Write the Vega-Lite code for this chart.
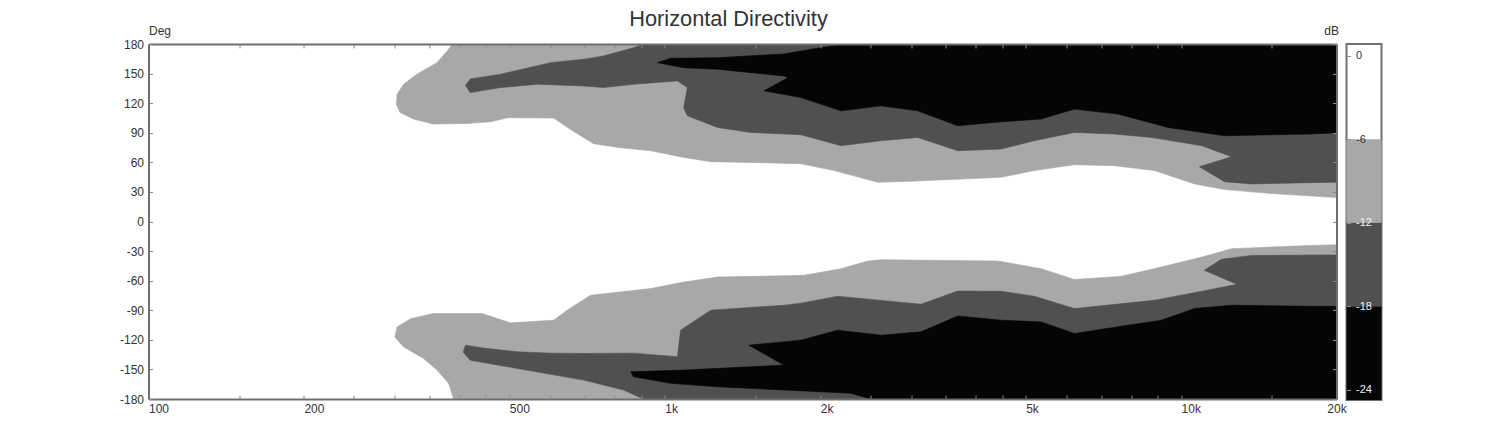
{
  "$schema": "https://vega.github.io/schema/vega-lite/v6.json",
  "padding": {"left": 118.5, "top": 8, "right": 0, "bottom": 0},
  "title": {"text": "Horizontal Directivity", "fontSize": 21.8, "font": "Liberation Sans", "fontWeight": "normal", "color": "#333333", "anchor": "middle", "dx": -22.5, "offset": -6},
  "bounds": "flush",
  "spacing": 10,
  "datasets": {
    "polys": [
      {"lvl":"-6","part":"u","i":1,"f":388,"a":180},
      {"lvl":"-6","part":"u","i":2,"f":379,"a":172.9},
      {"lvl":"-6","part":"u","i":3,"f":362,"a":161.1},
      {"lvl":"-6","part":"u","i":4,"f":331,"a":149.4},
      {"lvl":"-6","part":"u","i":5,"f":312,"a":139.2},
      {"lvl":"-6","part":"u","i":6,"f":303,"a":129.1},
      {"lvl":"-6","part":"u","i":7,"f":302,"a":119.0},
      {"lvl":"-6","part":"u","i":8,"f":307,"a":110.5},
      {"lvl":"-6","part":"u","i":9,"f":326,"a":103.9},
      {"lvl":"-6","part":"u","i":10,"f":356,"a":98.8},
      {"lvl":"-6","part":"u","i":11,"f":414,"a":99.4},
      {"lvl":"-6","part":"u","i":12,"f":460,"a":101.1},
      {"lvl":"-6","part":"u","i":13,"f":496,"a":105.2},
      {"lvl":"-6","part":"u","i":14,"f":609,"a":104.9},
      {"lvl":"-6","part":"u","i":15,"f":648,"a":95.4},
      {"lvl":"-6","part":"u","i":16,"f":687,"a":87.0},
      {"lvl":"-6","part":"u","i":17,"f":728,"a":78.9},
      {"lvl":"-6","part":"u","i":18,"f":821,"a":74.8},
      {"lvl":"-6","part":"u","i":19,"f":939,"a":71.8},
      {"lvl":"-6","part":"u","i":20,"f":1088,"a":65.0},
      {"lvl":"-6","part":"u","i":21,"f":1228,"a":60.7},
      {"lvl":"-6","part":"u","i":22,"f":1535,"a":59.7},
      {"lvl":"-6","part":"u","i":23,"f":1835,"a":58.6},
      {"lvl":"-6","part":"u","i":24,"f":2127,"a":51.6},
      {"lvl":"-6","part":"u","i":25,"f":2588,"a":39.7},
      {"lvl":"-6","part":"u","i":26,"f":2999,"a":40.8},
      {"lvl":"-6","part":"u","i":27,"f":4483,"a":44.8},
      {"lvl":"-6","part":"u","i":28,"f":5195,"a":51.6},
      {"lvl":"-6","part":"u","i":29,"f":6213,"a":57.6},
      {"lvl":"-6","part":"u","i":30,"f":7428,"a":56.6},
      {"lvl":"-6","part":"u","i":31,"f":8880,"a":51.6},
      {"lvl":"-6","part":"u","i":32,"f":10620,"a":38.1},
      {"lvl":"-6","part":"u","i":33,"f":12140,"a":32.4},
      {"lvl":"-6","part":"u","i":34,"f":14970,"a":28.3},
      {"lvl":"-6","part":"u","i":35,"f":20000,"a":24.3},
      {"lvl":"-6","part":"u","i":36,"f":20000,"a":180},

      {"lvl":"-12","part":"u","i":1,"f":910,"a":180},
      {"lvl":"-12","part":"u","i":2,"f":870,"a":176.3},
      {"lvl":"-12","part":"u","i":3,"f":761,"a":167.9},
      {"lvl":"-12","part":"u","i":4,"f":696,"a":164.5},
      {"lvl":"-12","part":"u","i":5,"f":601,"a":161.1},
      {"lvl":"-12","part":"u","i":6,"f":481,"a":149.4},
      {"lvl":"-12","part":"u","i":7,"f":420,"a":144.6},
      {"lvl":"-12","part":"u","i":8,"f":411,"a":138.0},
      {"lvl":"-12","part":"u","i":9,"f":420,"a":130.7},
      {"lvl":"-12","part":"u","i":10,"f":481,"a":135.8},
      {"lvl":"-12","part":"u","i":11,"f":566,"a":139.2},
      {"lvl":"-12","part":"u","i":12,"f":696,"a":137.5},
      {"lvl":"-12","part":"u","i":13,"f":761,"a":135.8},
      {"lvl":"-12","part":"u","i":14,"f":870,"a":139.2},
      {"lvl":"-12","part":"u","i":15,"f":1058,"a":142.6},
      {"lvl":"-12","part":"u","i":16,"f":1106,"a":135.8},
      {"lvl":"-12","part":"u","i":17,"f":1088,"a":115.6},
      {"lvl":"-12","part":"u","i":18,"f":1106,"a":107.2},
      {"lvl":"-12","part":"u","i":19,"f":1265,"a":95.4},
      {"lvl":"-12","part":"u","i":20,"f":1468,"a":90.3},
      {"lvl":"-12","part":"u","i":21,"f":1835,"a":88.0},
      {"lvl":"-12","part":"u","i":22,"f":2194,"a":76.9},
      {"lvl":"-12","part":"u","i":23,"f":2623,"a":81.9},
      {"lvl":"-12","part":"u","i":24,"f":3090,"a":85.2},
      {"lvl":"-12","part":"u","i":25,"f":3694,"a":71.8},
      {"lvl":"-12","part":"u","i":26,"f":4483,"a":73.5},
      {"lvl":"-12","part":"u","i":27,"f":5195,"a":81.9},
      {"lvl":"-12","part":"u","i":28,"f":6213,"a":90.3},
      {"lvl":"-12","part":"u","i":29,"f":7428,"a":88.7},
      {"lvl":"-12","part":"u","i":30,"f":8775,"a":85.2},
      {"lvl":"-12","part":"u","i":31,"f":10970,"a":76.9},
      {"lvl":"-12","part":"u","i":32,"f":12530,"a":65.7},
      {"lvl":"-12","part":"u","i":33,"f":10850,"a":55.6},
      {"lvl":"-12","part":"u","i":34,"f":12140,"a":40.4},
      {"lvl":"-12","part":"u","i":35,"f":13690,"a":38.1},
      {"lvl":"-12","part":"u","i":36,"f":17740,"a":39.4},
      {"lvl":"-12","part":"u","i":37,"f":20000,"a":39.9},
      {"lvl":"-12","part":"u","i":38,"f":20000,"a":180},

      {"lvl":"-18","part":"u","i":1,"f":968,"a":161.1},
      {"lvl":"-18","part":"u","i":2,"f":1027,"a":165.5},
      {"lvl":"-18","part":"u","i":3,"f":1265,"a":166.1},
      {"lvl":"-18","part":"u","i":4,"f":1701,"a":169.9},
      {"lvl":"-18","part":"u","i":5,"f":1835,"a":172.9},
      {"lvl":"-18","part":"u","i":6,"f":2223,"a":180},
      {"lvl":"-18","part":"u","i":7,"f":20000,"a":180},
      {"lvl":"-18","part":"u","i":8,"f":20000,"a":90.0},
      {"lvl":"-18","part":"u","i":9,"f":17740,"a":88.7},
      {"lvl":"-18","part":"u","i":10,"f":12140,"a":87.0},
      {"lvl":"-18","part":"u","i":11,"f":9436,"a":95.4},
      {"lvl":"-18","part":"u","i":12,"f":7548,"a":108.9},
      {"lvl":"-18","part":"u","i":13,"f":6213,"a":114.0},
      {"lvl":"-18","part":"u","i":14,"f":5360,"a":103.9},
      {"lvl":"-18","part":"u","i":15,"f":4483,"a":101.1},
      {"lvl":"-18","part":"u","i":16,"f":3694,"a":97.1},
      {"lvl":"-18","part":"u","i":17,"f":3090,"a":112.2},
      {"lvl":"-18","part":"u","i":18,"f":2623,"a":117.3},
      {"lvl":"-18","part":"u","i":19,"f":2194,"a":112.2},
      {"lvl":"-18","part":"u","i":20,"f":1835,"a":125.7},
      {"lvl":"-18","part":"u","i":21,"f":1557,"a":132.5},
      {"lvl":"-18","part":"u","i":22,"f":1732,"a":145.9},
      {"lvl":"-18","part":"u","i":23,"f":1701,"a":147.6},
      {"lvl":"-18","part":"u","i":24,"f":1265,"a":154.4},
      {"lvl":"-18","part":"u","i":25,"f":1088,"a":156.0},

      {"lvl":"-6","part":"l","i":1,"f":390,"a":-180},
      {"lvl":"-6","part":"l","i":2,"f":381,"a":-163.8},
      {"lvl":"-6","part":"l","i":3,"f":362,"a":-150.7},
      {"lvl":"-6","part":"l","i":4,"f":341,"a":-138.9},
      {"lvl":"-6","part":"l","i":5,"f":312,"a":-127.2},
      {"lvl":"-6","part":"l","i":6,"f":300,"a":-117.1},
      {"lvl":"-6","part":"l","i":7,"f":303,"a":-107.0},
      {"lvl":"-6","part":"l","i":8,"f":322,"a":-98.5},
      {"lvl":"-6","part":"l","i":9,"f":356,"a":-93.4},
      {"lvl":"-6","part":"l","i":10,"f":443,"a":-93.4},
      {"lvl":"-6","part":"l","i":11,"f":503,"a":-102.8},
      {"lvl":"-6","part":"l","i":12,"f":609,"a":-100.1},
      {"lvl":"-6","part":"l","i":13,"f":647,"a":-89.9},
      {"lvl":"-6","part":"l","i":14,"f":718,"a":-74.8},
      {"lvl":"-6","part":"l","i":15,"f":939,"a":-68.0},
      {"lvl":"-6","part":"l","i":16,"f":1088,"a":-61.4},
      {"lvl":"-6","part":"l","i":17,"f":1265,"a":-56.3},
      {"lvl":"-6","part":"l","i":18,"f":1860,"a":-54.6},
      {"lvl":"-6","part":"l","i":19,"f":2194,"a":-47.8},
      {"lvl":"-6","part":"l","i":20,"f":2471,"a":-40.1},
      {"lvl":"-6","part":"l","i":21,"f":2623,"a":-38.7},
      {"lvl":"-6","part":"l","i":22,"f":4417,"a":-40.1},
      {"lvl":"-6","part":"l","i":23,"f":5360,"a":-47.8},
      {"lvl":"-6","part":"l","i":24,"f":6213,"a":-58.8},
      {"lvl":"-6","part":"l","i":25,"f":7662,"a":-55.6},
      {"lvl":"-6","part":"l","i":26,"f":9154,"a":-46.2},
      {"lvl":"-6","part":"l","i":27,"f":10970,"a":-36.1},
      {"lvl":"-6","part":"l","i":28,"f":12530,"a":-27.6},
      {"lvl":"-6","part":"l","i":29,"f":17740,"a":-24.3},
      {"lvl":"-6","part":"l","i":30,"f":20000,"a":-23.6},
      {"lvl":"-6","part":"l","i":31,"f":20000,"a":-180},

      {"lvl":"-12","part":"l","i":1,"f":411,"a":-125.4},
      {"lvl":"-12","part":"l","i":2,"f":446,"a":-128.4},
      {"lvl":"-12","part":"l","i":3,"f":518,"a":-132.1},
      {"lvl":"-12","part":"l","i":4,"f":601,"a":-133.5},
      {"lvl":"-12","part":"l","i":5,"f":696,"a":-133.8},
      {"lvl":"-12","part":"l","i":6,"f":870,"a":-133.5},
      {"lvl":"-12","part":"l","i":7,"f":1058,"a":-137.2},
      {"lvl":"-12","part":"l","i":8,"f":1073,"a":-110.2},
      {"lvl":"-12","part":"l","i":9,"f":1228,"a":-89.9},
      {"lvl":"-12","part":"l","i":10,"f":1701,"a":-84.9},
      {"lvl":"-12","part":"l","i":11,"f":1835,"a":-82.9},
      {"lvl":"-12","part":"l","i":12,"f":2162,"a":-75.8},
      {"lvl":"-12","part":"l","i":13,"f":3135,"a":-83.9},
      {"lvl":"-12","part":"l","i":14,"f":3694,"a":-70.5},
      {"lvl":"-12","part":"l","i":15,"f":4483,"a":-70.8},
      {"lvl":"-12","part":"l","i":16,"f":5195,"a":-75.8},
      {"lvl":"-12","part":"l","i":17,"f":6213,"a":-88.3},
      {"lvl":"-12","part":"l","i":18,"f":8880,"a":-79.9},
      {"lvl":"-12","part":"l","i":19,"f":10970,"a":-70.8},
      {"lvl":"-12","part":"l","i":20,"f":12830,"a":-63.7},
      {"lvl":"-12","part":"l","i":21,"f":11090,"a":-49.5},
      {"lvl":"-12","part":"l","i":22,"f":11970,"a":-38.4},
      {"lvl":"-12","part":"l","i":23,"f":13690,"a":-34.4},
      {"lvl":"-12","part":"l","i":24,"f":20000,"a":-33.9},
      {"lvl":"-12","part":"l","i":25,"f":20000,"a":-180},
      {"lvl":"-12","part":"l","i":26,"f":910,"a":-180},
      {"lvl":"-12","part":"l","i":27,"f":832,"a":-170.9},
      {"lvl":"-12","part":"l","i":28,"f":696,"a":-160.8},
      {"lvl":"-12","part":"l","i":29,"f":518,"a":-149.0},
      {"lvl":"-12","part":"l","i":30,"f":420,"a":-140.6},
      {"lvl":"-12","part":"l","i":31,"f":407,"a":-132.5},

      {"lvl":"-18","part":"l","i":1,"f":859,"a":-152.4},
      {"lvl":"-18","part":"l","i":2,"f":1088,"a":-150.7},
      {"lvl":"-18","part":"l","i":3,"f":1468,"a":-147.3},
      {"lvl":"-18","part":"l","i":4,"f":1701,"a":-145.6},
      {"lvl":"-18","part":"l","i":5,"f":1455,"a":-125.4},
      {"lvl":"-18","part":"l","i":6,"f":1835,"a":-120.3},
      {"lvl":"-18","part":"l","i":7,"f":2162,"a":-110.2},
      {"lvl":"-18","part":"l","i":8,"f":2623,"a":-115.3},
      {"lvl":"-18","part":"l","i":9,"f":3135,"a":-111.9},
      {"lvl":"-18","part":"l","i":10,"f":3694,"a":-95.8},
      {"lvl":"-18","part":"l","i":11,"f":4483,"a":-100.1},
      {"lvl":"-18","part":"l","i":12,"f":5360,"a":-101.8},
      {"lvl":"-18","part":"l","i":13,"f":6213,"a":-113.6},
      {"lvl":"-18","part":"l","i":14,"f":7662,"a":-106.2},
      {"lvl":"-18","part":"l","i":15,"f":9154,"a":-100.1},
      {"lvl":"-18","part":"l","i":16,"f":10620,"a":-88.3},
      {"lvl":"-18","part":"l","i":17,"f":12530,"a":-84.9},
      {"lvl":"-18","part":"l","i":18,"f":17740,"a":-86.0},
      {"lvl":"-18","part":"l","i":19,"f":20000,"a":-86.0},
      {"lvl":"-18","part":"l","i":20,"f":20000,"a":-180},
      {"lvl":"-18","part":"l","i":21,"f":2508,"a":-180},
      {"lvl":"-18","part":"l","i":22,"f":2294,"a":-174.2},
      {"lvl":"-18","part":"l","i":23,"f":1701,"a":-170.9},
      {"lvl":"-18","part":"l","i":24,"f":1265,"a":-167.6},
      {"lvl":"-18","part":"l","i":25,"f":1027,"a":-164.1},
      {"lvl":"-18","part":"l","i":26,"f":870,"a":-157.4}
    ],
    "bands": [
      {"band": "-6", "hi": -6, "lo": -12},
      {"band": "-12", "hi": -12, "lo": -18},
      {"band": "-18", "hi": -18, "lo": -24.75}
    ]
  },
  "hconcat": [
    {
      "width": 1188,
      "height": 355,
      "data": {"name": "polys"},
      "layer": [
        {
          "encoding": {
            "x": {"field": "f", "type": "quantitative",
              "scale": {"type": "log", "domain": [100, 20000], "nice": false},
              "axis": {"orient": "bottom", "title": null, "grid": false, "zindex": 1,
                "values": [100,150,200,250,300,350,400,450,500,600,700,800,900,1000,1500,2000,2500,3000,3500,4000,4500,5000,6000,7000,8000,9000,10000,15000,20000],
                "labelExpr": "(datum.value == 100 || datum.value == 200 || datum.value == 500) ? ('' + datum.value) : (datum.value == 1000 || datum.value == 2000 || datum.value == 5000 || datum.value == 10000 || datum.value == 20000) ? ((datum.value / 1000) + 'k') : ''",
                "labelAlign": {"condition": {"test": "datum.value >= 20000", "value": "center"}, "value": "left"},
                "labelOverlap": false, "labelFlush": false, "labelBound": false,
                "labelFont": "Liberation Sans", "labelFontSize": 12, "labelColor": "#333333", "labelPadding": 8.5,
                "tickSize": -4, "tickColor": "#8a8a8a", "tickWidth": 1,
                "domainColor": "#6e6e6e", "domainWidth": 2}},
            "y": {"field": "a", "type": "quantitative",
              "scale": {"domain": [-180, 180], "nice": false, "zero": false},
              "axis": {"orient": "left", "grid": false, "zindex": 1,
                "values": [-180,-150,-120,-90,-60,-30,0,30,60,90,120,150,180],
                "labelExpr": "'' + datum.value",
                "labelFont": "Liberation Sans", "labelFontSize": 12, "labelColor": "#333333", "labelPadding": 9,
                "tickSize": -4, "tickColor": "#8a8a8a", "tickWidth": 1,
                "domainColor": "#6e6e6e", "domainWidth": 2,
                "title": "Deg", "titleAngle": 0, "titleX": 0, "titleY": -9.5, "titleAlign": "left", "titleBaseline": "alphabetic",
                "titleFont": "Liberation Sans", "titleFontSize": 12, "titleFontWeight": "normal", "titleColor": "#333333"}},
            "order": {"field": "i", "type": "quantitative"},
            "detail": {"field": "part", "type": "nominal"}
          },
          "layer": [
            {"transform": [{"filter": "datum.lvl == '-6'"}],
             "mark": {"type": "line", "interpolate": "linear-closed", "fill": "#a8a8a8", "stroke": "#a8a8a8", "strokeWidth": 0.6, "clip": true}},
            {"transform": [{"filter": "datum.lvl == '-12'"}],
             "mark": {"type": "line", "interpolate": "linear-closed", "fill": "#4f504f", "stroke": "#4f504f", "strokeWidth": 0.6, "clip": true}},
            {"transform": [{"filter": "datum.lvl == '-18'"}],
             "mark": {"type": "line", "interpolate": "linear-closed", "fill": "#060404", "stroke": "#060404", "strokeWidth": 0.6, "clip": true}}
          ]
        },
        {
          "mark": {"type": "point", "opacity": 0},
          "encoding": {
            "x": {"field": "f", "type": "quantitative",
              "scale": {"type": "log", "domain": [100, 20000], "nice": false},
              "axis": {"orient": "top", "title": null, "grid": false, "zindex": 1, "labels": false,
                "values": [100,150,200,250,300,350,400,450,500,600,700,800,900,1000,1500,2000,2500,3000,3500,4000,4500,5000,6000,7000,8000,9000,10000,15000,20000],
                "tickSize": -4, "tickColor": "#8a8a8a", "tickWidth": 1,
                "domainColor": "#6e6e6e", "domainWidth": 2}},
            "y": {"field": "a", "type": "quantitative",
              "scale": {"domain": [-180, 180], "nice": false, "zero": false},
              "axis": {"orient": "right", "grid": false, "zindex": 1, "labels": false,
                "values": [-180,-150,-120,-90,-60,-30,0,30,60,90,120,150,180],
                "tickSize": -4, "tickColor": "#8a8a8a", "tickWidth": 1,
                "domainColor": "#6e6e6e", "domainWidth": 2,
                "title": "dB", "titleAngle": 0, "titleX": 2, "titleY": -9.5, "titleAlign": "right", "titleBaseline": "alphabetic",
                "titleFont": "Liberation Sans", "titleFontSize": 12, "titleFontWeight": "normal", "titleColor": "#333333"}}
          }
        }
      ],
      "resolve": {"axis": {"x": "independent", "y": "independent"}}
    },
    {
      "width": 35,
      "height": 356,
      "view": {"stroke": "#707070", "strokeWidth": 2},
      "data": {"name": "bands"},
      "mark": {"type": "rect"},
      "encoding": {
        "y": {"field": "hi", "type": "quantitative",
          "scale": {"domain": [-24.75, 0.86], "nice": false, "zero": false},
          "axis": {"orient": "left", "title": null, "grid": false, "domain": false, "zindex": 1,
            "values": [0, -6, -12, -18, -24],
            "labelExpr": "'' + datum.value",
            "tickSize": -4, "tickColor": "#909090", "tickWidth": 1,
            "labelAlign": "left", "labelBaseline": "middle", "labelPadding": -5,
            "labelFont": "Liberation Sans", "labelFontSize": 11,
            "labelColor": {"condition": {"test": "datum.value <= -12", "value": "#f2f2f2"}, "value": "#333333"}}},
        "y2": {"field": "lo"},
        "color": {"field": "band", "type": "nominal",
          "scale": {"domain": ["-6", "-12", "-18"], "range": ["#a8a8a8", "#4f504f", "#060404"]},
          "legend": null}
      }
    }
  ],
  "config": {
    "view": {"stroke": null},
    "font": "Liberation Sans"
  }
}
